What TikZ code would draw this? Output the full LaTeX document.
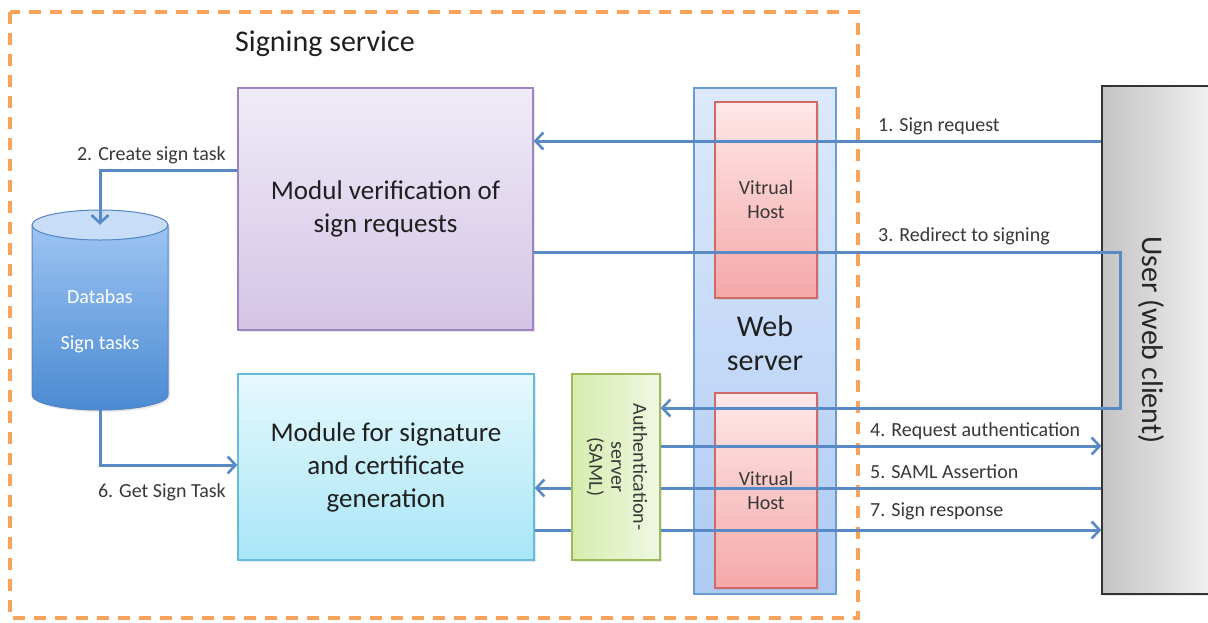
\documentclass[tikz,border=0pt]{standalone}
\usepackage{fontspec}
\setmainfont{Carlito}
\usetikzlibrary{arrows.meta,shadows}

\definecolor{flow}{HTML}{5A8AC6}
\definecolor{svcdash}{HTML}{F7A35C}
\definecolor{verifTop}{HTML}{EFEBF7}
\definecolor{verifBot}{HTML}{D4C4E6}
\definecolor{verifLine}{HTML}{9D83BF}
\definecolor{sigTop}{HTML}{E6F8FD}
\definecolor{sigBot}{HTML}{A8E6F7}
\definecolor{sigLine}{HTML}{64BCD8}
\definecolor{authLeft}{HTML}{D6ECAE}
\definecolor{authRight}{HTML}{F0F8E2}
\definecolor{authLine}{HTML}{9BBB59}
\definecolor{webTop}{HTML}{DDE9FB}
\definecolor{webBot}{HTML}{AECBF4}
\definecolor{webLine}{HTML}{6C9BD2}
\definecolor{vhTop}{HTML}{FFE8E8}
\definecolor{vhBot}{HTML}{F5A8A8}
\definecolor{vhLine}{HTML}{CF6A66}
\definecolor{userLeft}{HTML}{C4C4C4}
\definecolor{userRight}{HTML}{F3F3F3}
\definecolor{dbTop}{HTML}{C8DDF8}
\definecolor{dbUpper}{HTML}{9CC4F2}
\definecolor{dbLower}{HTML}{4B8AD2}
\definecolor{dbLine}{HTML}{5584C4}

\begin{document}
\begin{tikzpicture}[x=1pt,y=-1pt,
  box/.style={draw, line width=1.2pt, inner sep=0pt, align=center,
    drop shadow={opacity=0.18, shadow xshift=2pt, shadow yshift=-2pt}},
  flowline/.style={draw=flow, line width=3pt},
  flowarrow/.style={flowline, -{Straight Barb[length=8pt,width=17pt,line width=2.6pt]}},
  lbl/.style={font=\fontsize{20}{24}\selectfont, text=black!78, inner sep=0pt},
  big/.style={font=\fontsize{27}{33}\selectfont, text=black!88},
]
\useasboundingbox (0,0) rectangle (1208,622);

% signing service boundary
\draw[svcdash, line width=3.2pt, dash pattern=on 12pt off 9pt] (10,12) rectangle (858,618);
\node[lbl, font=\fontsize{30}{36}\selectfont, text=black!88, anchor=base] (title) at (325,51) {Signing service};

% modules
\node[box, big, draw=verifLine, top color=verifTop, bottom color=verifBot,
      minimum width=295pt, minimum height=242pt] (verif) at (385.5,209)
      {Modul verification of\\sign requests};
\node[box, big, draw=sigLine, top color=sigTop, bottom color=sigBot,
      minimum width=296pt, minimum height=186pt] (sig) at (386,467)
      {Module for signature\\and certificate\\generation};

% authentication server
\node[box, draw=authLine, left color=authLeft, right color=authRight,
      minimum width=88pt, minimum height=186pt] (auth) at (616,467) {};
\node[lbl, rotate=-90, align=center, font=\fontsize{20}{22}\selectfont] (authtext) at (617,467)
      {Authentication-\\server\\(SAML)};

% web server with its two virtual hosts
\node[draw=webLine, line width=1.2pt, top color=webTop, bottom color=webBot,
      minimum width=142pt, minimum height=506pt, inner sep=0pt] (web) at (765,341) {};
\node[align=center, font=\fontsize{30}{34}\selectfont, text=black!88] (webtext) at (765,343) {Web\\server};
\node[box, draw=vhLine, top color=vhTop, bottom color=vhBot, lbl, align=center,
      minimum width=102pt, minimum height=196pt, font=\fontsize{20}{24}\selectfont] (vh1) at (766,200) {Vitrual\\Host};
\node[box, draw=vhLine, top color=vhTop, bottom color=vhBot, lbl, align=center,
      minimum width=102pt, minimum height=195pt, font=\fontsize{20}{24}\selectfont] (vh2) at (766,490.5) {Vitrual\\Host};

% user
\node[box, draw=black!80, left color=userLeft, right color=userRight,
      minimum width=116pt, minimum height=508pt] (user) at (1160,340) {};
\node[lbl, rotate=-90, font=\fontsize{30}{34}\selectfont, text=black!85] (usertext) at (1151,340) {User (web client)};

% database cylinder
\node[minimum width=136pt, minimum height=185pt, inner sep=0pt] (db) at (100,317.5) {};
\path[draw=dbLine, line width=1pt, top color=dbUpper, bottom color=dbLower,
      drop shadow={opacity=0.18, shadow xshift=2pt, shadow yshift=-2pt}]
  (32,225) -- (32,395) arc[start angle=180, end angle=360, x radius=68pt, y radius=15pt]
  -- (168,225) -- cycle;
\draw[draw=dbLine, line width=1pt, fill=dbTop] (100,225) ellipse [x radius=68pt, y radius=15pt];
\node[lbl, text=white] (dbname) at (100,297) {Databas};
\node[lbl, text=white] (dbtasks) at (100,344) {Sign tasks};

% message flows
\coordinate (turn) at (1120,330);
\draw[flowarrow] (user.west |- 0,141) -- (verif.east |- 0,141);
\draw[flowarrow] (verif.west |- 0,170) -| (db.north);
\draw[flowarrow] (verif.east |- 0,252) -| (turn) |- (auth.east |- 0,408);
\draw[flowarrow] (auth.east |- 0,446) -- (user.west |- 0,446);
\draw[flowline] (user.west |- 0,488) -- (auth.east |- 0,488);
\draw[flowarrow] (auth.west |- 0,488) -- (sig.east |- 0,488);
\draw[flowarrow] (db.south) |- (sig.west |- 0,465);
\draw[flowline] (sig.east |- 0,530) -- (auth.west |- 0,530);
\draw[flowarrow] (auth.east |- 0,530) -- (user.west |- 0,530);

% flow labels
\node[lbl, anchor=base west] (l1) at (878,131) {1. Sign request};
\node[lbl, anchor=base east] (l2) at (226,160) {2. Create sign task};
\node[lbl, anchor=base west] (l3) at (878,241) {3. Redirect to signing};
\node[lbl, anchor=base west] (l4) at (870,436) {4. Request authentication};
\node[lbl, anchor=base west] (l5) at (870,478) {5. SAML Assertion};
\node[lbl, anchor=base east] (l6) at (226,497) {6. Get Sign Task};
\node[lbl, anchor=base west] (l7) at (870,516) {7. Sign response};
\end{tikzpicture}
\end{document}
